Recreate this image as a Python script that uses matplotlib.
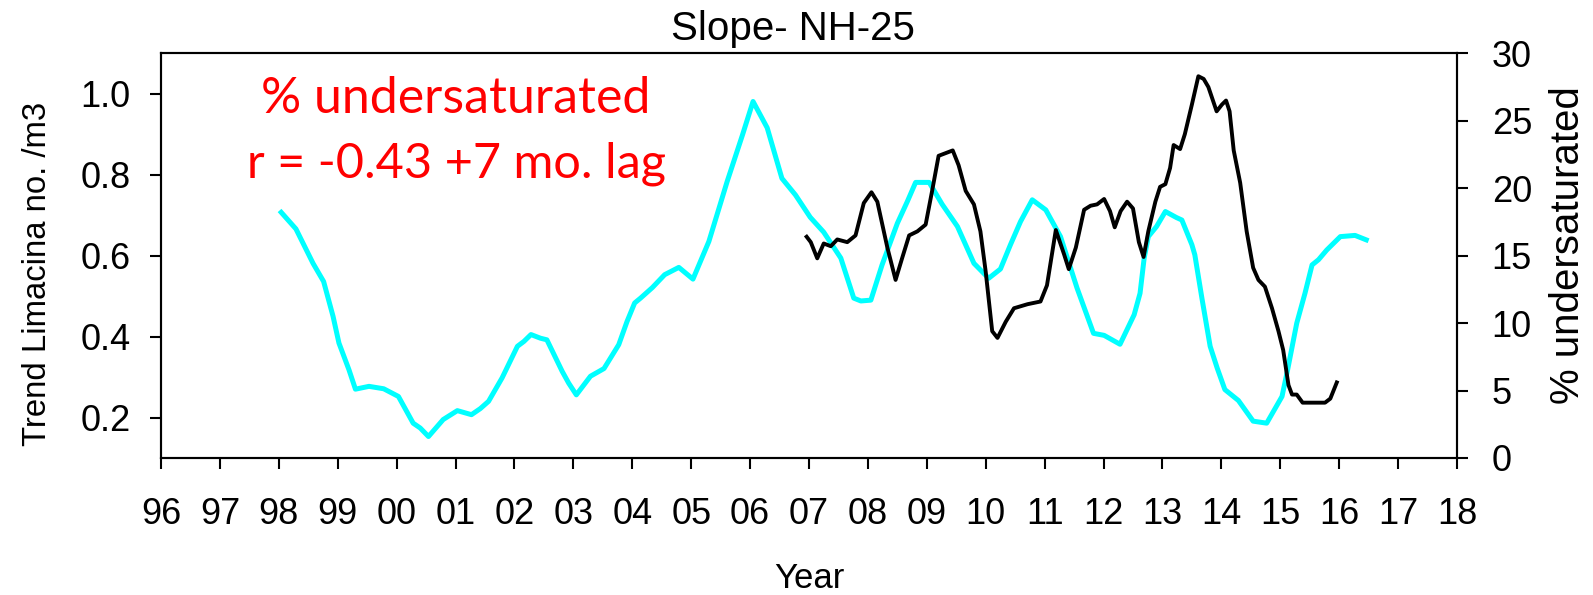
import numpy as np
import matplotlib.pyplot as plt

plt.rcParams['font.family'] = ['Liberation Sans', 'DejaVu Sans']

# Limacina trend (no. /m3), left axis
lim_year = [1998.04, 1998.29, 1998.58, 1998.76, 1998.92, 1999.02, 1999.19, 1999.30,
            1999.53, 1999.78, 2000.03, 2000.28, 2000.40, 2000.54, 2000.79, 2001.03,
            2001.27, 2001.42, 2001.56, 2001.79, 2002.05, 2002.16, 2002.28, 2002.44,
            2002.55, 2002.81, 2002.92, 2003.05, 2003.29, 2003.52, 2003.77, 2003.91,
            2004.04, 2004.14, 2004.34, 2004.55, 2004.79, 2005.03, 2005.30, 2005.61,
            2005.87, 2006.05, 2006.29, 2006.54, 2006.77, 2007.02, 2007.25, 2007.54,
            2007.76, 2007.88, 2008.05, 2008.24, 2008.50, 2008.67, 2008.81, 2009.04,
            2009.26, 2009.52, 2009.80, 2010.05, 2010.25, 2010.42, 2010.59, 2010.79,
            2011.02, 2011.27, 2011.55, 2011.83, 2012.01, 2012.28, 2012.52, 2012.62,
            2012.69, 2012.76, 2012.90, 2013.05, 2013.24, 2013.33, 2013.50, 2013.55,
            2013.67, 2013.81, 2013.93, 2014.06, 2014.29, 2014.54, 2014.77, 2015.03,
            2015.12, 2015.28, 2015.42, 2015.54, 2015.65, 2015.79, 2016.02, 2016.27,
            2016.46]
lim_trend = [0.707, 0.666, 0.581, 0.536, 0.450, 0.384, 0.318, 0.270,
             0.277, 0.271, 0.252, 0.186, 0.174, 0.153, 0.195, 0.217,
             0.207, 0.222, 0.240, 0.298, 0.376, 0.388, 0.405, 0.396,
             0.392, 0.314, 0.285, 0.256, 0.302, 0.321, 0.380, 0.437,
             0.483, 0.495, 0.521, 0.553, 0.571, 0.542, 0.635, 0.783,
             0.898, 0.981, 0.916, 0.791, 0.750, 0.695, 0.658, 0.594,
             0.495, 0.488, 0.490, 0.577, 0.680, 0.734, 0.781, 0.781,
             0.727, 0.672, 0.581, 0.544, 0.567, 0.627, 0.684, 0.738,
             0.713, 0.647, 0.520, 0.408, 0.403, 0.381, 0.454, 0.507,
             0.594, 0.647, 0.672, 0.709, 0.694, 0.688, 0.627, 0.602,
             0.495, 0.376, 0.322, 0.269, 0.242, 0.191, 0.186, 0.252,
             0.314, 0.433, 0.507, 0.577, 0.590, 0.614, 0.647, 0.650,
             0.639]

# % undersaturated, right axis
und_year = [2006.96, 2007.03, 2007.14, 2007.25, 2007.37, 2007.48, 2007.65, 2007.79,
            2007.93, 2008.06, 2008.16, 2008.33, 2008.47, 2008.58, 2008.70, 2008.84,
            2008.98, 2009.09, 2009.20, 2009.32, 2009.44, 2009.54, 2009.66, 2009.80,
            2009.91, 2010.00, 2010.11, 2010.20, 2010.34, 2010.48, 2010.71, 2010.93,
            2011.04, 2011.19, 2011.33, 2011.41, 2011.53, 2011.67, 2011.78, 2011.89,
            2012.01, 2012.11, 2012.19, 2012.29, 2012.40, 2012.50, 2012.60, 2012.68,
            2012.76, 2012.88, 2012.96, 2013.05, 2013.13, 2013.19, 2013.30, 2013.38,
            2013.50, 2013.61, 2013.70, 2013.78, 2013.92, 2014.01, 2014.08, 2014.14,
            2014.21, 2014.32, 2014.43, 2014.54, 2014.63, 2014.74, 2014.86, 2014.97,
            2015.05, 2015.14, 2015.20, 2015.28, 2015.38, 2015.56, 2015.76, 2015.85,
            2015.96]
und_pct = [16.4, 16.0, 14.8, 15.9, 15.7, 16.2, 16.0, 16.5,
           18.9, 19.7, 19.0, 15.6, 13.2, 14.8, 16.5, 16.8,
           17.3, 19.8, 22.4, 22.6, 22.8, 21.7, 19.8, 18.8,
           16.8, 13.8, 9.4, 8.9, 10.1, 11.1, 11.4, 11.6,
           12.8, 16.9, 15.1, 14.0, 15.6, 18.4, 18.7, 18.8,
           19.2, 18.3, 17.1, 18.3, 19.0, 18.5, 16.0, 14.9,
           16.8, 19.0, 20.1, 20.3, 21.5, 23.2, 22.9, 24.0,
           26.2, 28.3, 28.1, 27.5, 25.7, 26.2, 26.5, 25.7,
           22.8, 20.4, 16.8, 14.1, 13.2, 12.7, 11.1, 9.4,
           8.0, 5.4, 4.7, 4.7, 4.1, 4.1, 4.1, 4.4,
           5.6]

years = list(range(1996, 2019))
year_labels = ['%02d' % (y % 100) for y in years]
left_ticks = [0.2, 0.4, 0.6, 0.8, 1.0]
right_ticks = [0, 5, 10, 15, 20, 25, 30]

fig = plt.figure(figsize=(15.93, 5.95), dpi=100)
ax = fig.add_axes([0.1011, 0.2303, 0.8135, 0.6801])
ax2 = ax.twinx()

ax.plot(lim_year, lim_trend, color='#00FFFF', lw=3.6, solid_joinstyle='round')
ax2.plot(und_year, und_pct, color='black', lw=2.8, solid_joinstyle='round')

ax.set_xlim(1996, 2018)
ax.set_ylim(0.1, 1.1)
ax2.set_ylim(0, 30)

ax.set_xticks(years)
ax.set_xticklabels(year_labels)
ax.set_yticks(left_ticks)
ax.set_yticklabels(['%.1f' % v for v in left_ticks])
ax2.set_yticks(right_ticks)

for a in (ax, ax2):
    for spine in a.spines.values():
        spine.set_linewidth(1.5)
        spine.set_color('black')
ax.tick_params(axis='x', direction='out', length=8, width=1.5, labelsize=26, pad=20)
ax.tick_params(axis='y', direction='out', length=8, width=1.5, labelsize=26, pad=14)
ax2.tick_params(axis='y', direction='out', length=8, width=1.5, labelsize=26, pad=17)

fig.text(0.4978, 0.952, 'Slope- NH-25', fontsize=29, ha='center', va='center')
fig.text(0.0235, 0.539, 'Trend Limacina no. /m3', fontsize=23.7, rotation=90,
         ha='center', va='center')
fig.text(0.984, 0.588, '% undersaturated', fontsize=29, rotation=90,
         ha='center', va='center')
fig.text(0.508, 0.027, 'Year', fontsize=25, ha='center', va='center')

# correlation note in the upper left of the plot
red_font = dict(transform=ax.transAxes, color='red', ha='center', va='baseline',
                family=['Lato', 'DejaVu Sans'])
ax.text(0.2276, 0.852, '% undersaturated', fontsize=36, **red_font)
ax.text(0.2276, 0.694, 'r = -0.43 +7 mo. lag', fontsize=35, **red_font)

plt.savefig('out.png', dpi=100)
